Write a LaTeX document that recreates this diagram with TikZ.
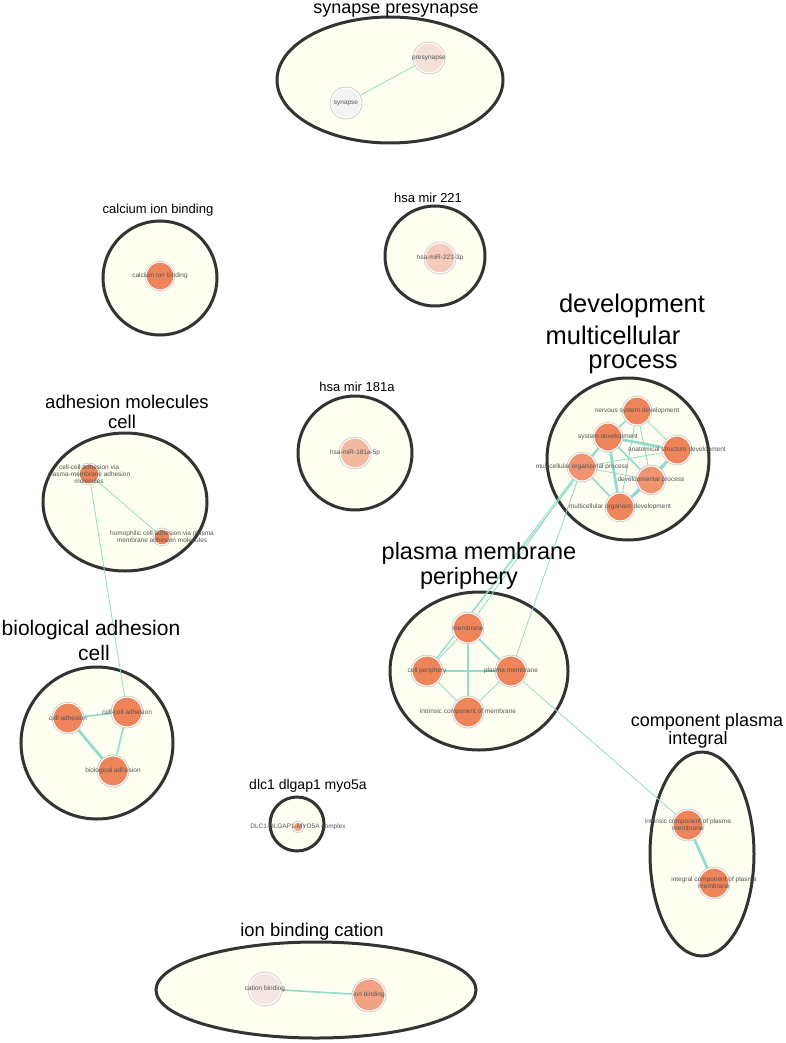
\documentclass[tikz,border=0pt]{standalone}
\usepackage{fontspec}
\setmainfont{Liberation Sans}
\usetikzlibrary{positioning}
\definecolor{clfill}{HTML}{FEFEF1}
\definecolor{clborder}{HTML}{333333}
\definecolor{edgec}{HTML}{8EDCCB}
\definecolor{cstrong}{HTML}{EE8459}
\definecolor{cmid}{HTML}{EF9572}
\definecolor{cion}{HTML}{F0A283}
\definecolor{cmirA}{HTML}{F5CBBB}
\definecolor{cmirB}{HTML}{F2B9A1}
\definecolor{cpre}{HTML}{F4E0D9}
\definecolor{csyn}{HTML}{F3F3F3}
\definecolor{ccat}{HTML}{F4E6E3}
\definecolor{cdlc}{HTML}{F2A88A}
\definecolor{labc}{HTML}{555555}
\pgfdeclarelayer{bg}
\pgfdeclarelayer{edges}
\pgfsetlayers{bg,edges,main}
\tikzset{
  cluster/.style={draw=clborder, line width=3pt, fill=clfill},
  gn/.style={circle, inner sep=0pt, draw=white, line width=1.1pt,
             preaction={draw=gray!45, line width=2.6pt}},
  glabel/.style={font=\fontsize{6.5}{7.2}\selectfont, text=labc, align=center, inner sep=0pt},
  ctitle/.style={inner sep=0pt, text=black},
  edgethin/.style={draw=edgec, line width=0.8pt},
  edgemid/.style={draw=edgec, line width=1.6pt},
  edgethick/.style={draw=edgec, line width=2.7pt},
}
\newcommand\gnode[5]{\node[gn, minimum size=#3*2pt, fill=#4, label={[glabel]center:{#5}}] (#1) at (#2) {};}
\begin{document}
\begin{tikzpicture}[x=1pt,y=-1pt]
\useasboundingbox (0,0) rectangle (786,1043);

% ---------- clusters ----------
\begin{pgfonlayer}{bg}
\fill[white] (0,0) rectangle (786,1043);
\draw[cluster] (390,80) ellipse [x radius=113, y radius=63];
\draw[cluster] (160,278) circle [radius=57];
\draw[cluster] (435,256) circle [radius=50];
\draw[cluster] (355,453) circle [radius=57];
\draw[cluster] (628,459) circle [radius=81];
\draw[cluster] (125,502) ellipse [x radius=82, y radius=69];
\draw[cluster] (97,743) circle [radius=76];
\draw[cluster] (479,671) ellipse [x radius=89, y radius=79];
\draw[cluster] (702,854) ellipse [x radius=52, y radius=102];
\draw[cluster] (297,824) circle [radius=27];
\draw[cluster] (316,990) ellipse [x radius=160, y radius=48];
\end{pgfonlayer}

% ---------- titles ----------
\node[ctitle, font=\fontsize{18}{20}\selectfont] (t1) at (396,11) {synapse presynapse};
\node[ctitle, font=\fontsize{13}{15}\selectfont] (t2) at (158,210) {calcium ion binding};
\node[ctitle, font=\fontsize{13}{15}\selectfont] (t3) at (428,198) {hsa mir 221};
\node[ctitle, font=\fontsize{13}{15}\selectfont] (t4) at (357,387) {hsa mir 181a};
\node[ctitle, font=\fontsize{25.5}{27}\selectfont] (t5a) at (632,306) {development};
\node[ctitle, font=\fontsize{25.5}{27}\selectfont] (t5b) at (613,335) {multicellular};
\node[ctitle, font=\fontsize{25.5}{27}\selectfont] (t5c) at (633,364) {process};
\node[ctitle, font=\fontsize{18.5}{20}\selectfont] (t6a) at (127,402) {adhesion molecules};
\node[ctitle, font=\fontsize{18.5}{20}\selectfont] (t6b) at (122,422) {cell};
\node[ctitle, font=\fontsize{21}{23}\selectfont] (t7a) at (91,630) {biological adhesion};
\node[ctitle, font=\fontsize{21}{23}\selectfont] (t7b) at (94,653) {cell};
\node[ctitle, font=\fontsize{23.5}{25}\selectfont] (t8a) at (479,553) {plasma membrane};
\node[ctitle, font=\fontsize{23.5}{25}\selectfont] (t8b) at (469,578) {periphery};
\node[ctitle, font=\fontsize{18}{20}\selectfont] (t9a) at (707,722) {component plasma};
\node[ctitle, font=\fontsize{18}{20}\selectfont] (t9b) at (698,740) {integral};
\node[ctitle, font=\fontsize{14}{16}\selectfont] (t10) at (308,786) {dlc1 dlgap1 myo5a};
\node[ctitle, font=\fontsize{18.4}{20}\selectfont] (t11) at (312,932) {ion binding cation};

% ---------- nodes ----------
\gnode{pre}{429,58}{15}{cpre}{presynapse}
\gnode{syn}{346,103}{15}{csyn}{synapse}
\gnode{calc}{160,276}{14}{cstrong}{calcium ion binding}
\gnode{mirA}{440,258}{15}{cmirA}{hsa-miR-221-3p}
\gnode{mirB}{355,453}{15}{cmirB}{hsa-miR-181a-5p}

\gnode{nsd}{637,411}{14}{cstrong}{nervous system development}
\gnode{sysd}{608,437}{14}{cstrong}{system development}
\gnode{anat}{677,450}{14}{cstrong}{anatomical structure development}
\gnode{mop}{582,467}{14}{cmid}{multicellular organismal process}
\gnode{devp}{651,480}{14}{cmid}{developmental process}
\gnode{mod}{620,507}{14}{cstrong}{multicellular organism development}

\gnode{ccam}{89,474}{10}{cstrong}{cell-cell adhesion via\\plasma-membrane adhesion\\molecules}
\gnode{homo}{162,537}{8}{cstrong}{homophilic cell adhesion via plasma\\membrane adhesion molecules}

\gnode{cadh}{68,718}{15}{cstrong}{cell adhesion}
\gnode{ccell}{127,712}{15}{cstrong}{cell-cell adhesion}
\gnode{badh}{113,771}{15}{cstrong}{biological adhesion}

\gnode{memb}{468,628}{15}{cstrong}{membrane}
\gnode{cper}{427,671}{15}{cstrong}{cell periphery}
\gnode{pmem}{511,671}{15}{cstrong}{plasma membrane}
\gnode{icm}{468,712}{15}{cstrong}{intrinsic component of membrane}

\gnode{icpm}{688,825}{15}{cstrong}{intrinsic component of plasma\\membrane}
\gnode{integ}{714,883}{15}{cstrong}{integral component of plasma\\membrane}

\gnode{dlc}{298,827}{5}{cdlc}{DLC1-DLGAP1-MYO5A complex}

\gnode{cat}{265,989}{16}{ccat}{cation binding}
\gnode{ionb}{369,995}{16}{cion}{ion binding}

% ---------- edges ----------
\begin{pgfonlayer}{edges}
\draw[edgethin] (pre) -- (syn);

\draw[edgemid] (nsd) -- (sysd);
\draw[edgethin] (nsd) -- (anat);
\draw[edgethin] (nsd) -- (devp);
\draw[edgethin] (nsd) -- (mod);
\draw[edgemid] (sysd) -- (mop);
\draw[edgemid] (sysd) -- (devp);
\draw[edgethick] (sysd) -- (anat);
\draw[edgethick] (sysd) -- (mod);
\draw[edgethin] (mop) -- (anat);
\draw[edgethin] (mop) -- (devp);
\draw[edgemid] (mop) -- (mod);
\draw[edgethin] (anat) -- (mod);
\draw[edgethick] (anat) -- (devp);
\draw[edgethick] (devp) -- (mod);

\draw[edgethin] (mop) -- (memb);
\draw[edgethin] (mop) -- (cper);
\draw[edgethin] (sysd) -- (cper);
\draw[edgethin] (mop) -- (pmem);

\draw[edgethin] (ccam) -- (homo);
\draw[edgethin] (ccam) -- (ccell);

\draw[edgemid] (cadh) -- (ccell);
\draw[edgethick] (cadh) -- (badh);
\draw[edgemid] (ccell) -- (badh);

\draw[edgethin] (memb) -- (cper);
\draw[edgemid] (memb) -- (pmem);
\draw[edgemid] (memb) -- (icm);
\draw[edgethick] (cper) -- (pmem);
\draw[edgethin] (cper) -- (icm);
\draw[edgethin] (pmem) -- (icm);

\draw[edgethin] (pmem) -- (icpm);
\draw[edgethick] (icpm) -- (integ);

\draw[edgemid] (cat) -- (ionb);
\end{pgfonlayer}
\end{tikzpicture}
\end{document}
